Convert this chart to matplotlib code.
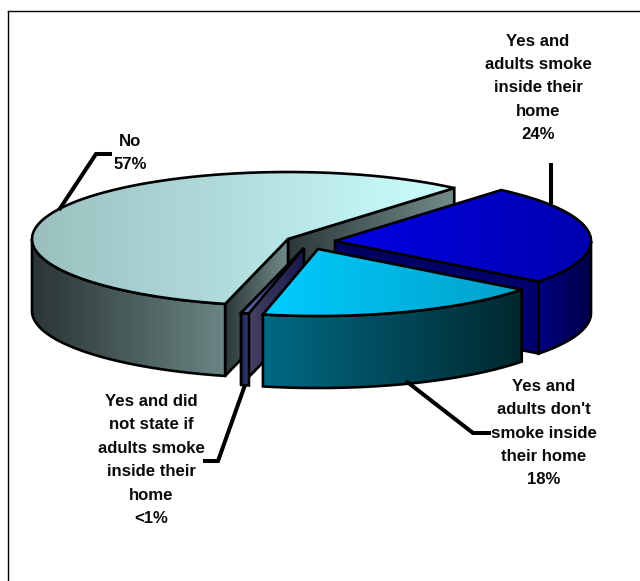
import numpy as np
from matplotlib import pyplot as plt
from matplotlib.colors import LinearSegmentedColormap
from matplotlib.patches import Polygon

# shares of each slice (the <1% one is an estimate)
labels = ["No\n57%",
          "Yes and\nadults smoke\ninside their\nhome\n24%",
          "Yes and\nadults don't\nsmoke inside\ntheir home\n18%",
          "Yes and did\nnot state if\nadults smoke\ninside their\nhome\n<1%"]
shares = [57.3, 24.1, 18.1, 0.5]

RX, RY, DEPTH = 256, 67, 72
START = 49.5
# apex of each slice on the page, exploded by hand
apex = [(288, 239), (335, 241), (318, 249), (304, 248)]


def arc(centre, t1, t2, n=80):
    t = np.radians(np.linspace(t1, t2, n))
    return np.column_stack([centre[0] + RX * np.cos(t), centre[1] - RY * np.sin(t)])


def face(ax, pts, c1, c2):
    # horizontal gradient clipped to a polygon, then a black outline
    pts = np.asarray(pts)
    cmap = LinearSegmentedColormap.from_list('g', [c1, c2])
    poly = Polygon(pts, closed=True, fc='none', ec='black', lw=1.9, joinstyle='miter', zorder=ax.z + 1)
    ax.add_patch(poly)
    im = ax.imshow(np.linspace(0, 1, 256).reshape(1, -1), cmap=cmap, aspect='auto',
                   extent=[pts[:, 0].min(), pts[:, 0].max(), pts[:, 1].max(), pts[:, 1].min()], zorder=ax.z)
    im.set_clip_path(poly)
    ax.z += 2


def side(centre, t1, t2):
    top = arc(centre, t1, t2)
    return np.vstack([top, top[::-1] + [0, DEPTH]])


def cut(centre, t):
    end = arc(centre, t, t, 1)[0]
    c = np.array(centre, float)
    return [c, end, end + [0, DEPTH], c + [0, DEPTH]]


fig = plt.figure(figsize=(6.4, 5.81), dpi=100)
ax = fig.add_axes([0, 0, 1, 1])
ax.z = 2

# angles come from the shares, clockwise from the start angle
spans = np.array(shares) / sum(shares) * 360
blue_end = START - spans[1]
cyan_end = blue_end - spans[2]
small_end = cyan_end - spans[3]

# No
c = apex[0]
face(ax, cut(c, START), '#2c3838', '#728c8a')
face(ax, cut(c, small_end), '#2c3838', '#728c8a')
face(ax, side(c, 180, small_end + 360), '#2a3434', '#6a8684')
face(ax, np.vstack([[c], arc(c, START, small_end + 360)]), '#9bbfbf', '#ccffff')

# small slice
c = apex[3]
face(ax, cut(c, small_end), '#4c4864', '#17174f')
face(ax, side(c, cyan_end, small_end), '#1a2060', '#3a4068')
face(ax, np.vstack([[c], arc(c, cyan_end, small_end)]), '#5a6cb0', '#20205c')

# blue
c = apex[1]
face(ax, cut(c, blue_end), '#000060', '#000070')
face(ax, side(c, 0, blue_end), '#000080', '#000048')
face(ax, np.vstack([[c], arc(c, START, blue_end)]), '#0000e4', '#0000b0')

# cyan
c = apex[2]
face(ax, side(c, blue_end, cyan_end), '#006a85', '#00282e')
face(ax, np.vstack([[c], arc(c, blue_end, cyan_end)]), '#00ccff', '#00a0c8')

# leader lines
for xs, ys in [((59, 96, 112), (210, 154, 154)),
               ((551, 551), (204, 163)),
               ((406, 473, 491), (381, 433, 433)),
               ((245, 218, 203), (385, 461, 461))]:
    ax.plot(xs, ys, color='black', lw=2.9, solid_joinstyle='miter', solid_capstyle='butt', zorder=ax.z)

# labels
for lab, (x, y) in zip(labels, [(130, 153), (538, 88), (544, 433), (151, 460)]):
    ax.text(x, y, lab, ha='center', va='center', multialignment='center', family='Liberation Sans',
            weight='bold', fontsize=12.1, linespacing=1.7, color='#0a0a0a', zorder=ax.z + 1)

ax.set_xlim(0, 640)
ax.set_ylim(581, 0)
ax.axis('off')

# frame around the chart
ax.plot([8, 8], [581, 11], color='black', lw=1, zorder=ax.z)
ax.plot([8, 640], [11, 11], color='black', lw=1, zorder=ax.z)

fig.savefig('out.png', dpi=100)
